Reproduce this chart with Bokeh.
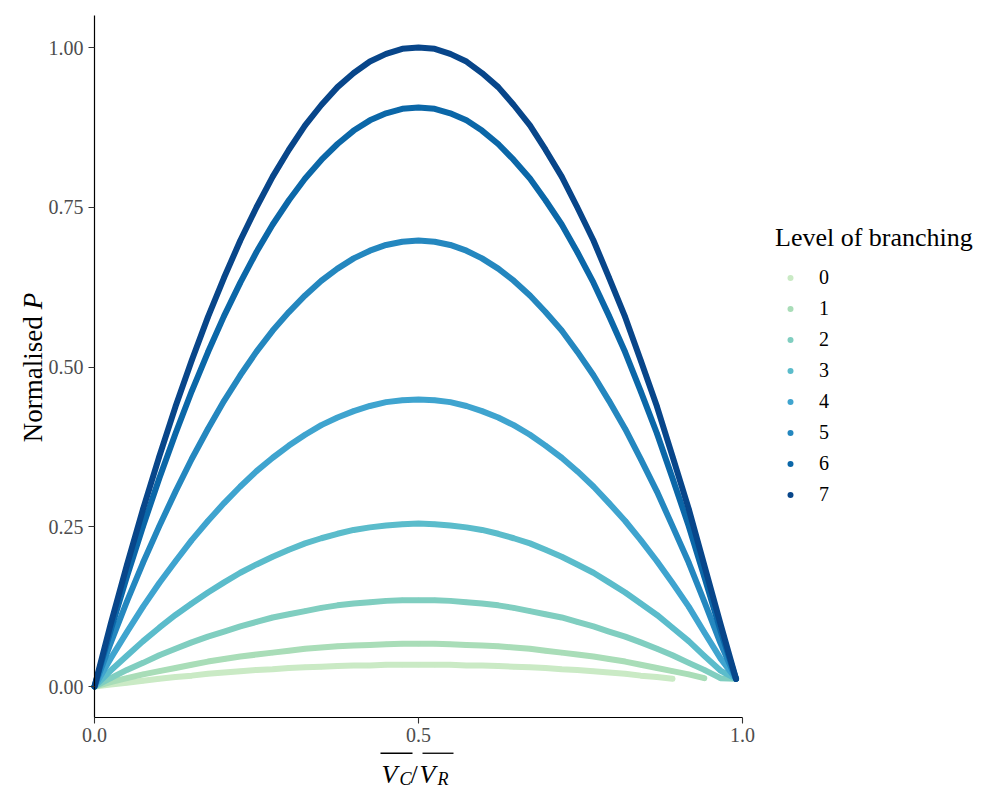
import math
from bokeh.plotting import figure
from bokeh.models import (Legend, LegendItem, Range1d, FixedTicker, LinearAxis,
                          Label, BoxAnnotation)
from bokeh.embed import file_html
from bokeh.resources import INLINE

# ---------------- data ----------------
x_vals = [0.0, 0.025, 0.05, 0.075, 0.1, 0.125, 0.15, 0.175, 0.2, 0.225, 0.25,
          0.275, 0.3, 0.325, 0.35, 0.375, 0.4, 0.425, 0.45, 0.475, 0.5,
          0.525, 0.549, 0.574, 0.598, 0.623, 0.647, 0.672, 0.696, 0.721, 0.745,
          0.770, 0.794, 0.819, 0.843, 0.868, 0.892, 0.917, 0.941, 0.966, 0.990]

level_0 = [0.0, 0.003, 0.006, 0.009, 0.012, 0.015, 0.017, 0.020, 0.022, 0.024, 0.026,
           0.027, 0.029, 0.030, 0.031, 0.032, 0.033, 0.033, 0.034, 0.034, 0.034,
           0.034, 0.034, 0.033, 0.033, 0.032, 0.031, 0.030, 0.029, 0.027, 0.026,
           0.024, 0.022, 0.020, 0.017, 0.015, 0.012]
level_1 = [0.0, 0.007, 0.013, 0.019, 0.024, 0.029, 0.034, 0.039, 0.043, 0.047, 0.050,
           0.053, 0.056, 0.059, 0.061, 0.063, 0.064, 0.065, 0.066, 0.067, 0.067,
           0.067, 0.066, 0.065, 0.064, 0.063, 0.061, 0.059, 0.056, 0.053, 0.050,
           0.047, 0.043, 0.039, 0.034, 0.029, 0.024, 0.019, 0.013]
level_2 = [0.0, 0.013, 0.026, 0.037, 0.049, 0.059, 0.069, 0.078, 0.086, 0.094, 0.101,
           0.108, 0.113, 0.118, 0.123, 0.127, 0.130, 0.132, 0.134, 0.135, 0.135,
           0.135, 0.134, 0.132, 0.130, 0.127, 0.123, 0.118, 0.113, 0.108, 0.101,
           0.094, 0.086, 0.078, 0.069, 0.059, 0.049, 0.037, 0.026, 0.013, 0.012]
level_3 = [0.0, 0.025, 0.048, 0.071, 0.092, 0.112, 0.130, 0.147, 0.163, 0.178, 0.191,
           0.203, 0.214, 0.224, 0.232, 0.239, 0.245, 0.249, 0.252, 0.254, 0.255,
           0.254, 0.252, 0.249, 0.245, 0.239, 0.232, 0.224, 0.214, 0.203, 0.191,
           0.178, 0.163, 0.147, 0.130, 0.112, 0.092, 0.071, 0.048, 0.025, 0.012]
level_4 = [0.0, 0.044, 0.085, 0.125, 0.162, 0.196, 0.229, 0.259, 0.287, 0.313, 0.337,
           0.358, 0.377, 0.394, 0.409, 0.421, 0.431, 0.439, 0.445, 0.448, 0.449,
           0.448, 0.445, 0.439, 0.431, 0.421, 0.409, 0.394, 0.377, 0.358, 0.337,
           0.313, 0.287, 0.259, 0.229, 0.196, 0.162, 0.125, 0.085, 0.044, 0.012]
level_5 = [0.0, 0.068, 0.133, 0.194, 0.251, 0.305, 0.356, 0.403, 0.447, 0.487, 0.524,
           0.557, 0.586, 0.612, 0.635, 0.654, 0.670, 0.682, 0.691, 0.696, 0.698,
           0.696, 0.691, 0.682, 0.670, 0.654, 0.635, 0.612, 0.586, 0.557, 0.524,
           0.487, 0.447, 0.403, 0.356, 0.305, 0.251, 0.194, 0.133, 0.068, 0.012]
level_6 = [0.0, 0.088, 0.172, 0.251, 0.326, 0.396, 0.462, 0.523, 0.580, 0.632, 0.680,
           0.723, 0.761, 0.795, 0.824, 0.849, 0.870, 0.886, 0.897, 0.904, 0.906,
           0.904, 0.897, 0.886, 0.870, 0.849, 0.824, 0.795, 0.761, 0.723, 0.680,
           0.632, 0.580, 0.523, 0.462, 0.396, 0.326, 0.251, 0.172, 0.088, 0.012]
level_7 = [0.0, 0.098, 0.190, 0.278, 0.360, 0.438, 0.510, 0.578, 0.640, 0.698, 0.750,
           0.798, 0.840, 0.878, 0.910, 0.938, 0.960, 0.978, 0.990, 0.998, 1.000,
           0.998, 0.990, 0.978, 0.960, 0.938, 0.910, 0.878, 0.840, 0.798, 0.750,
           0.698, 0.640, 0.578, 0.510, 0.438, 0.360, 0.278, 0.190, 0.098, 0.012]

levels = ["0", "1", "2", "3", "4", "5", "6", "7"]
series = [level_0, level_1, level_2, level_3, level_4, level_5, level_6, level_7]
colors = ["#CAEAC5", "#A9DDB8", "#80CEC0", "#5BBCCB", "#3FA4CF", "#2487BF",
          "#0B67A8", "#08468A"]

x_ticks = [0.0, 0.5, 1.0]
x_tick_labels = ["0.0", "0.5", "1.0"]
y_ticks = [0.0, 0.25, 0.5, 0.75, 1.0]
y_tick_labels = ["0.00", "0.25", "0.50", "0.75", "1.00"]
x_limits = (0.0, 1.0)
y_limits = (-0.0485, 1.05)

legend_title = "Level of branching"
y_title = ["Normalised", "P"]
x_title = ["V", "C", "/", "V", "R"]

FONT = "Liberation Serif"

# ---------------- figure: frame covers the whole canvas ----------------
W, H = 989, 785
PX0, PX1 = 94, 742      # page x of x=0 and x=1
PY0, PY1 = 686, 47      # page y of y=0 and y=1
sx = (PX1 - PX0) / (x_limits[1] - x_limits[0])
sy = (PY0 - PY1) / 1.0
x_range = Range1d(-PX0 / sx, (W - PX0) / sx)
y_range = Range1d((PY0 - H) / sy, PY0 / sy)

p = figure(width=W, height=H, output_backend="svg", toolbar_location=None,
           x_range=x_range, y_range=y_range,
           x_axis_location=None, y_axis_location=None, min_border=0)
p.outline_line_color = None
for g in p.grid:
    g.visible = False
p.background_fill_color = "white"
p.border_fill_color = "white"

xaxis = LinearAxis(fixed_location=y_limits[0], bounds=x_limits)
yaxis = LinearAxis(fixed_location=x_limits[0], bounds=y_limits)
p.add_layout(xaxis, "below")
p.add_layout(yaxis, "left")

for ax, ticks, labs in ((xaxis, x_ticks, x_tick_labels), (yaxis, y_ticks, y_tick_labels)):
    ax.ticker = FixedTicker(ticks=ticks)
    ax.major_label_overrides = {t: l for t, l in zip(ticks, labs)}
    ax.minor_tick_line_color = None
    ax.major_tick_in = 0
    ax.major_tick_out = 6
    ax.major_tick_line_color = "#333333"
    ax.major_tick_line_width = 1.1
    ax.axis_line_color = "black"
    ax.axis_line_width = 1.2
    ax.major_label_text_font = FONT
    ax.major_label_text_font_size = "20px"
    ax.major_label_text_color = "#4D4D4D"
    ax.major_label_standoff = 5

items = []
for lab, ys, col in zip(levels, series, colors):
    xs = x_vals[:len(ys)]
    p.line(xs, ys, line_color=col, line_width=6, line_cap="round", line_join="round")
    r = p.scatter(xs, ys, size=5, fill_color=col, line_color=None)
    items.append(LegendItem(label=lab, renderers=[r]))

legend = Legend(items=items, location=(775, 277))
legend.title = legend_title
legend.title_text_font = FONT
legend.title_text_font_size = "26px"
legend.title_text_font_style = "normal"
legend.title_text_color = "black"
legend.title_standoff = 10
legend.glyph_width = 30
legend.glyph_height = 15
legend.label_height = 28
legend.spacing = 3
legend.padding = 0
legend.margin = 0
legend.label_standoff = 14
legend.border_line_color = None
legend.background_fill_alpha = 0
legend.label_text_font = FONT
legend.label_text_font_size = "20px"
legend.label_text_color = "black"
p.add_layout(legend, "center")


def label(x, y, t, size, style="normal", angle=0.0):
    p.add_layout(Label(x=x, y=y, x_units="screen", y_units="screen", text=t,
                       angle=angle, text_font=FONT, text_font_size=size,
                       text_font_style=style, text_color="black",
                       text_baseline="alphabetic", text_align="left"))


# y-axis title: "Normalised P" with italic P (screen px from bottom-left)
label(32, 343.3, y_title[0], "27px", "normal", math.pi / 2)
label(32, 476.3, y_title[1], "27px", "italic", math.pi / 2)

# x-axis title: overline(V_C) / overline(V_R)
xt_x = [381, 399, 410, 419, 437]
xt_y = [11, 7, 11, 11, 7]
xt_size = ["26px", "18px", "26px", "26px", "18px"]
xt_style = ["italic", "italic", "normal", "italic", "italic"]
for t, xx, yy, sz, st in zip(x_title, xt_x, xt_y, xt_size, xt_style):
    label(xx, yy, t, sz, st)
for l, r in ((380, 412), (422, 453)):
    p.add_layout(BoxAnnotation(left=l, right=r, bottom=31.6, top=32.9,
                               left_units="screen", right_units="screen",
                               top_units="screen", bottom_units="screen",
                               fill_color="black", fill_alpha=1, line_color=None))

open("out.html", "w").write(file_html(p, INLINE))
